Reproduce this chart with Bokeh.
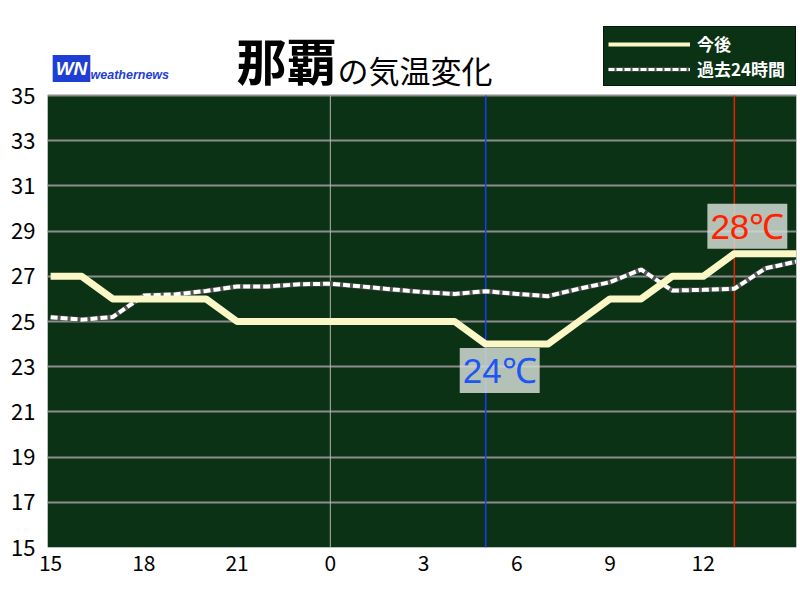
from bokeh.plotting import figure
from bokeh.models import (FixedTicker, Label, Legend, LegendItem, ColumnDataSource, Range1d,
                          BoxAnnotation)
from bokeh.embed import file_html
from bokeh.resources import INLINE

# ---- data ----
hours = list(range(25))  # hours since 15:00
forecast = [27, 27, 26, 26, 26, 26, 25, 25, 25, 25, 25, 25, 25, 25, 24, 24, 24,
            25, 26, 26, 27, 27, 28, 28, 28]
past = [25.19, 25.08, 25.2, 26.15, 26.2, 26.35, 26.55, 26.55, 26.65, 26.67, 26.55,
        26.42, 26.3, 26.22, 26.34, 26.22, 26.12, 26.45, 26.74, 27.3, 26.37, 26.4,
        26.45, 27.35, 27.65]
tick_hours = [0, 3, 6, 9, 12, 15, 18, 21]
tick_labels = ["15", "18", "21", "0", "3", "6", "9", "12"]
y_ticks = [15, 17, 19, 21, 23, 25, 27, 29, 31, 33, 35]
midnight_hour = 9
now_hour = 14
now_temp = 24
max_hour = 22
max_temp = 28
city = "那覇"
subtitle = "の気温変化"
legend_labels = ["今後", "過去24時間"]

FONT = "Noto Sans CJK JP"
GREEN = "#0c3215"
CREAM = "#fcf7c6"

# layout (pixels)
W, H = 800, 600
LEFT, RIGHT, BOTTOM = 47, 4, 53
CHART_TOP = 95                      # top of the green chart area
FRAME_H = H - BOTTOM                # frame spans the whole height above the x labels
y_lo, y_hi = y_ticks[0], y_ticks[-1]
y_top = y_lo + (y_hi - y_lo) * FRAME_H / (FRAME_H - CHART_TOP)

src = ColumnDataSource(dict(h=hours, f=forecast, p=past))

p = figure(width=W, height=H, output_backend="svg", toolbar_location=None,
           x_range=(-0.1, 24), y_range=(y_lo, y_top),
           min_border_left=LEFT, min_border_right=RIGHT, min_border_top=0,
           min_border_bottom=BOTTOM)
p.extra_x_ranges = {"px": Range1d(LEFT, W - RIGHT)}
p.extra_y_ranges = {"px": Range1d(FRAME_H, 0)}
p.background_fill_color = "white"
p.border_fill_color = "white"
p.outline_line_color = None

# green chart area
p.add_layout(BoxAnnotation(bottom=y_lo, top=y_hi, fill_color=GREEN, fill_alpha=1,
                           line_color="#8a8a8a", line_width=1, level="image"))

p.xaxis.ticker = FixedTicker(ticks=tick_hours)
p.xaxis.major_label_overrides = {hh: l for hh, l in zip(tick_hours, tick_labels)}
p.yaxis.ticker = FixedTicker(ticks=y_ticks)
for ax in (p.xaxis, p.yaxis):
    ax.axis_line_color = None
    ax.major_tick_line_color = None
    ax.minor_tick_line_color = None
    ax.major_label_text_font = FONT
    ax.major_label_text_color = "black"
p.xaxis.major_label_text_font_size = "21px"
p.yaxis.major_label_text_font_size = "22px"
p.xaxis.major_label_standoff = 1
p.yaxis.major_label_standoff = 6

p.xgrid.grid_line_color = None
p.ygrid.grid_line_color = "#8c8c8c"
p.ygrid.grid_line_width = 2

# vertical markers (midnight, now, max) within the chart area
p.segment(x0=[midnight_hour], y0=[y_lo], x1=[midnight_hour], y1=[y_hi],
          line_color="#b4b4b4", line_width=1)
p.segment(x0=[now_hour], y0=[y_lo], x1=[now_hour], y1=[y_hi],
          line_color="#1a3cff", line_width=1.5)
p.segment(x0=[max_hour], y0=[y_lo], x1=[max_hour], y1=[y_hi],
          line_color="#e82000", line_width=1.5)

p.line("h", "p", source=src, line_color="#555555", line_width=5)
p.line("h", "p", source=src, line_color="white", line_width=4, line_dash="7 3")
p.line("h", "f", source=src, line_color=CREAM, line_width=7, line_join="round")

p.add_layout(Label(x=now_hour, y=now_temp, text=f"{now_temp}℃", x_offset=14, y_offset=-4,
                   text_align="center", text_baseline="top", text_font="Liberation Sans",
                   text_font_size="35px", text_color="#1e56f2",
                   background_fill_color="#d2dad2", background_fill_alpha=0.85, padding=3))
p.add_layout(Label(x=max_hour, y=max_temp, text=f"{max_temp}℃", x_offset=13, y_offset=5,
                   text_align="center", text_baseline="bottom", text_font="Liberation Sans",
                   text_font_size="35px", text_color="#ff2200",
                   background_fill_color="#d2dad2", background_fill_alpha=0.85, padding=3))

# header texts (page pixel coordinates through the "px" ranges)
def px_label(**kw):
    return Label(x_range_name="px", y_range_name="px", **kw)

p.add_layout(px_label(x=236, y=58, text=city, text_font=FONT, text_font_size="50px",
                      text_font_style="bold", text_color="black", text_baseline="middle"))
p.add_layout(px_label(x=337, y=69, text=subtitle, text_font=FONT, text_font_size="31px",
                      text_color="black", text_baseline="middle"))
p.add_layout(px_label(x=71, y=68, text="WN", text_font="Liberation Sans", text_font_size="19px",
                      text_font_style="bold italic", text_color="white", text_align="center",
                      text_baseline="middle", background_fill_color="#1f3fd4", padding=3))
p.add_layout(px_label(x=90, y=74, text="weathernews", text_font="Liberation Sans",
                      text_font_size="12.5px", text_font_style="bold italic",
                      text_color="#1f3fd4", text_baseline="middle"))

# legend sample renderers (hidden; only their legend glyphs are shown)
lg_fc = p.line("h", "f", source=src, line_color=CREAM, line_width=4, visible=False)
lg_pbg = p.line("h", "p", source=src, line_color="#555555", line_width=4, visible=False)
lg_p = p.line("h", "p", source=src, line_color="white", line_width=3, line_dash="6 2",
              visible=False)
legend = Legend(items=[LegendItem(label=legend_labels[0], renderers=[lg_fc]),
                       LegendItem(label=legend_labels[1], renderers=[lg_pbg, lg_p])],
                location=(603 - LEFT, FRAME_H - 86), orientation="vertical",
                background_fill_color=GREEN, background_fill_alpha=1,
                border_line_color="black", border_line_width=1,
                label_text_color="white", label_text_font=FONT, label_text_font_size="17px",
                label_text_font_style="bold",
                glyph_width=82, glyph_height=20, label_height=20, label_width=94, spacing=0,
                padding=4, margin=0, label_standoff=7)
p.add_layout(legend, "center")

open("out.html", "w").write(file_html(p, INLINE))
